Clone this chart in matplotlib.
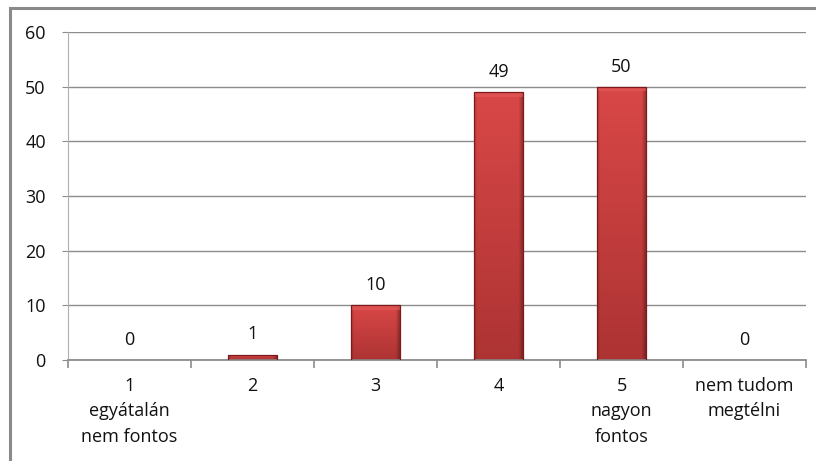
import matplotlib
matplotlib.use("Agg")
import matplotlib.pyplot as plt
import numpy as np
from matplotlib.patches import Rectangle

categories = ["1\negyátalán\nnem fontos", "2", "3", "4", "5\nnagyon\nfontos", "nem tudom\nmegtélni"]
values = [0, 1, 10, 49, 50, 0]
y_ticks = [0, 10, 20, 30, 40, 50, 60]

W, H, DPI = 816, 461, 100
fig = plt.figure(figsize=(W / DPI, H / DPI), dpi=DPI)
plt.rcParams["font.family"] = ["Open Sans", "DejaVu Sans"]
FS = 13

# outer chart frame
fig.patches.append(Rectangle((10 / W, -0.05), 1.2, 1 - 8 / H + 0.05,
                             transform=fig.transFigure, fill=False,
                             edgecolor="#8a8a8a", linewidth=2.2))

ax = fig.add_axes([68 / W, 1 - 360 / H, (806 - 68) / W, (360 - 32) / H])
x = np.arange(len(values))
bar_w = 0.4

ax.set_xlim(-0.5, len(values) - 0.5)
ax.set_ylim(0, 60)
ax.set_yticks(y_ticks)
ax.yaxis.grid(True, color="#8c8c8c", linewidth=1.0)
ax.set_axisbelow(True)

for s in ("top", "right"):
    ax.spines[s].set_visible(False)
ax.spines["left"].set_color("#b0b0b0")
ax.spines["bottom"].set_color("#8c8c8c")
ax.spines["bottom"].set_linewidth(1.3)

ax.tick_params(axis="y", length=4, color="#8c8c8c", labelsize=FS, pad=12, labelcolor="#111111")
ax.set_xticks(x)
ax.set_xticklabels(categories, fontsize=FS, linespacing=1.55, color="#111111")
ax.tick_params(axis="x", length=0, pad=12)
ax.set_xticks(np.arange(len(values) + 1) - 0.5, minor=True)
ax.tick_params(axis="x", which="minor", length=6, color="#8c8c8c", width=1.2)

# shaded bar texture: lighter at the top, darker towards base and edges
ny, nx = 100, 60
top_col = np.array([0.85, 0.28, 0.28])
bot_col = np.array([0.68, 0.20, 0.20])
t = np.linspace(0, 1, ny)[:, None, None]
tex = top_col * (1 - t) + bot_col * t
u = np.linspace(0, 1, nx)[None, :, None]
edge = 1 - 0.35 * np.clip((u - 0.9) / 0.1, 0, 1) - 0.15 * np.clip((0.06 - u) / 0.06, 0, 1)
tex = np.clip(tex * edge, 0, 1)

bars = ax.bar(x, values, width=bar_w, color="#c93e3e", edgecolor="none", zorder=2)
for b, v in zip(bars, values):
    if v <= 0:
        continue
    x0, w = b.get_x(), b.get_width()
    im = ax.imshow(tex, extent=(x0, x0 + w, 0, v), aspect="auto", origin="upper",
                   zorder=2.5, interpolation="bilinear")
    im.set_clip_path(b)
    top_h = min(0.8, v * 0.3)
    ax.add_patch(Rectangle((x0, v - top_h), w, top_h, facecolor="#e35858",
                           edgecolor="none", alpha=0.7, zorder=2.6))
    ax.add_patch(Rectangle((x0, 0), w, v, facecolor="none",
                           edgecolor="#7e1a1a", linewidth=0.9, zorder=2.7))

ax.set_xlim(-0.5, len(values) - 0.5)
ax.set_ylim(0, 60)

for xi, v in zip(x, values):
    ax.annotate(str(v), (xi, v), xytext=(0, 14.5), textcoords="offset points",
                ha="center", va="center", fontsize=FS, color="#111111")

fig.savefig("out.png", dpi=DPI)
